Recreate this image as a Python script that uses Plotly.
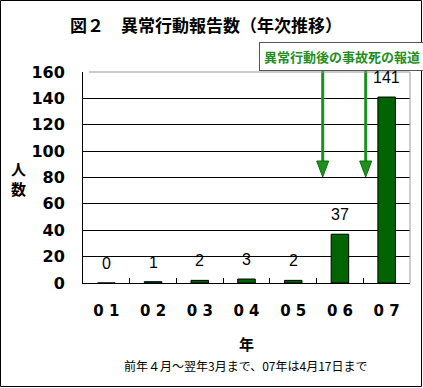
import plotly.graph_objects as go

# ---- data ----
categories = ["0 1", "0 2", "0 3", "0 4", "0 5", "0 6", "0 7"]
reports = [0, 1, 2, 3, 2, 37, 141]
y_ticks = [0, 20, 40, 60, 80, 100, 120, 140, 160]

title_text = "図２　異常行動報告数（年次推移）"
note_text = "異常行動後の事故死の報道"
x_title = "年"
y_title = "人<br>数"
sub_text = "前年４月～翌年3月まで、07年は4月17日まで"

# ---- layout geometry (pixels) ----
W, H = 423, 388
L, R, T, B = 83, 13, 72, 105
PW, PH = W - L - R, H - T - B


def px(x):
    return (x - L) / PW


def py(y):
    return (H - B - y) / PH


GREEN = "#1f8f1f"
BAR = "#006400"
CJK = "Noto Sans CJK JP"

fig = go.Figure()
fig.add_trace(go.Bar(
    x=categories, y=reports,
    marker=dict(color=BAR, line=dict(color="black", width=1)),
    hoverinfo="skip",
))

annotations = []
# value labels
for c, v in zip(categories, reports):
    annotations.append(dict(
        x=c, y=v, xref="x", yref="y", text=str(v), showarrow=False,
        yanchor="bottom", yshift=9,
        font=dict(family="Liberation Sans", size=16, color="black"),
    ))

annotations += [
    dict(x=px(206), y=py(24), xref="paper", yref="paper", text=title_text,
         showarrow=False, xanchor="center", yanchor="middle",
         font=dict(family=CJK, size=17, color="black", weight="bold")),
    dict(x=px(342), y=py(56), xref="paper", yref="paper", text=note_text,
         showarrow=False, xanchor="center", yanchor="middle",
         bgcolor="white", bordercolor="#555555", borderwidth=1, borderpad=4,
         font=dict(family=CJK, size=13, color=GREEN, weight="bold")),
    dict(x=px(18), y=py(178), xref="paper", yref="paper", text=y_title,
         showarrow=False, xanchor="center", yanchor="middle",
         font=dict(family=CJK, size=15, color="black", weight="bold")),
    dict(x=px(247), y=py(343), xref="paper", yref="paper", text=x_title,
         showarrow=False, xanchor="center", yanchor="middle",
         font=dict(family=CJK, size=15, color="black", weight="bold")),
    dict(x=px(245), y=py(365), xref="paper", yref="paper", text=sub_text,
         showarrow=False, xanchor="center", yanchor="middle",
         font=dict(family=CJK, size=12, color="black")),
]

shapes = []
# arrows (pixel positions of the call-out arrows)
arrow_px = [322.7, 365.7]
for ax_ in arrow_px:
    shapes.append(dict(type="line", xref="paper", yref="paper",
                       x0=px(ax_), x1=px(ax_), y0=py(69), y1=py(163),
                       line=dict(color=GREEN, width=3), layer="above"))
    shapes.append(dict(type="path", xref="paper", yref="paper",
                       path=f"M {px(ax_-6)} {py(161)} L {px(ax_+6)} {py(161)} L {px(ax_)} {py(177)} Z",
                       fillcolor=GREEN, line=dict(color="#0d6e0d", width=1), layer="above"))
# grey top / right frame
shapes.append(dict(type="line", xref="paper", yref="paper", x0=px(L + 6), x1=1, y0=1, y1=1,
                   line=dict(color="#999999", width=1), layer="above"))
shapes.append(dict(type="line", xref="paper", yref="paper", x0=1, x1=1, y0=0, y1=1,
                   line=dict(color="#999999", width=1), layer="above"))
# outer black border
shapes.append(dict(type="rect", xref="paper", yref="paper",
                   x0=px(0.5), x1=px(421.5), y0=py(386.5), y1=py(0.5),
                   line=dict(color="black", width=1), layer="above"))

fig.update_layout(
    width=W, height=H,
    margin=dict(l=L, r=R, t=T, b=B, pad=0),
    paper_bgcolor="white", plot_bgcolor="white",
    showlegend=False, bargap=0.625,
    annotations=annotations, shapes=shapes,
    xaxis=dict(
        type="category", tickson="boundaries", ticks="inside", ticklen=5,
        tickcolor="black", showline=True, linecolor="black", linewidth=1,
        showgrid=False, ticklabelstandoff=14,
        tickfont=dict(family="DejaVu Sans", size=15, color="black", weight="bold"),
    ),
    yaxis=dict(
        range=[0, 160], tickvals=y_ticks, ticks="inside", ticklen=6,
        tickcolor="black", showline=True, linecolor="black", linewidth=1,
        showgrid=True, gridcolor="black", gridwidth=1, zeroline=False,
        ticklabelstandoff=14,
        tickfont=dict(family="DejaVu Sans", size=16, color="black", weight="bold"),
    ),
)

fig.write_html(
    "out.html",
    config={"displayModeBar": False},
    post_script="document.body.style.margin='0';document.body.style.padding='0';",
)
